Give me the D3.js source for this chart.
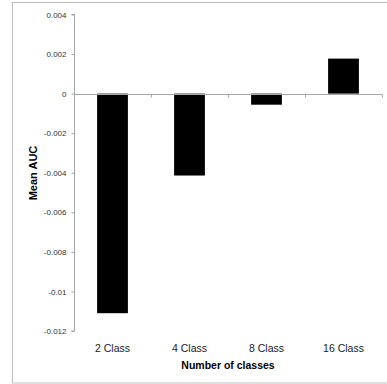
<!DOCTYPE html>
<html><head><meta charset="utf-8">
<script src="https://cdn.jsdelivr.net/npm/d3@7"></script>
<style>body{margin:0;background:#fff;} svg{display:block;}</style>
</head><body>
<script>
const categories = ["2 Class", "4 Class", "8 Class", "16 Class"];
const values = [-0.0111, -0.00414, -0.00056, 0.00177];
const yTicks = [0.004, 0.002, 0, -0.002, -0.004, -0.006, -0.008, -0.01, -0.012];
const yTickLabels = ["0.004", "0.002", "0", "-0.002", "-0.004", "-0.006", "-0.008", "-0.01", "-0.012"];
const xTitle = "Number of classes";
const yTitle = "Mean AUC";

const W = 387, H = 384;
const svg = d3.select("body").append("svg").attr("width", W).attr("height", H);
svg.append("rect").attr("x", 12.5).attr("y", 2.5).attr("width", 380).attr("height", 380.5)
  .attr("fill", "none").attr("stroke", "#bdbdbd").attr("stroke-width", 1);

const y = d3.scaleLinear().domain([-0.012, 0.004]).range([331, 14.5]);
const x = d3.scaleBand().domain(categories).range([74, 382]).paddingInner(0.6).paddingOuter(0.3);

// bars
svg.selectAll("rect.bar").data(values).enter().append("rect")
  .attr("class", "bar")
  .attr("x", (d, i) => x(categories[i]))
  .attr("width", x.bandwidth())
  .attr("y", d => y(Math.max(0, d)))
  .attr("height", d => Math.abs(y(d) - y(0)))
  .attr("fill", "#000");

// y axis
const yAxis = d3.axisLeft(y).tickValues(yTicks).tickSize(3)
  .tickFormat((d, i) => yTickLabels[i]);
const gy = svg.append("g").attr("transform", "translate(74.5,0)").call(yAxis);
gy.select(".domain").attr("stroke", "#a6a6a6").attr("d", `M-3,${y(0.004)}H0V${y(-0.012)}H-3`);
gy.selectAll(".tick line").attr("stroke", "#a6a6a6");
gy.selectAll(".tick text").attr("font-family", "Liberation Sans, Arial, sans-serif")
  .attr("font-size", 8).attr("fill", "#333").attr("x", -8);

// x axis at zero
const bandStep = x.step();
const xAxisG = svg.append("g").attr("transform", `translate(0,${Math.round(y(0)) + 0.5})`);
xAxisG.append("line").attr("x1", 74).attr("x2", 382).attr("stroke", "#a6a6a6");
const bounds = categories.map((c, i) => x(c) - x.paddingInner() * bandStep / 2 + bandStep);
xAxisG.selectAll("line.tk").data(bounds).enter().append("line").attr("class", "tk")
  .attr("x1", d => Math.round(d) + 0.5).attr("x2", d => Math.round(d) + 0.5)
  .attr("y1", 0).attr("y2", 3).attr("stroke", "#a6a6a6");

// category labels
svg.selectAll("text.cat").data(categories).enter().append("text").attr("class", "cat")
  .attr("x", d => x(d) + x.bandwidth() / 2).attr("y", 352)
  .attr("text-anchor", "middle").attr("font-family", "Liberation Sans, Arial, sans-serif")
  .attr("font-size", 10.5).attr("fill", "#222").text(d => d);

svg.append("text").attr("x", 228).attr("y", 369).attr("text-anchor", "middle")
  .attr("font-family", "Liberation Sans, Arial, sans-serif").attr("font-weight", "bold")
  .attr("font-size", 10.5).attr("fill", "#000").text(xTitle);

svg.append("text").attr("transform", "translate(37,173) rotate(-90)").attr("text-anchor", "middle")
  .attr("font-family", "Liberation Sans, Arial, sans-serif").attr("font-weight", "bold")
  .attr("font-size", 11).attr("fill", "#000").text(yTitle);
</script>
</body></html>
